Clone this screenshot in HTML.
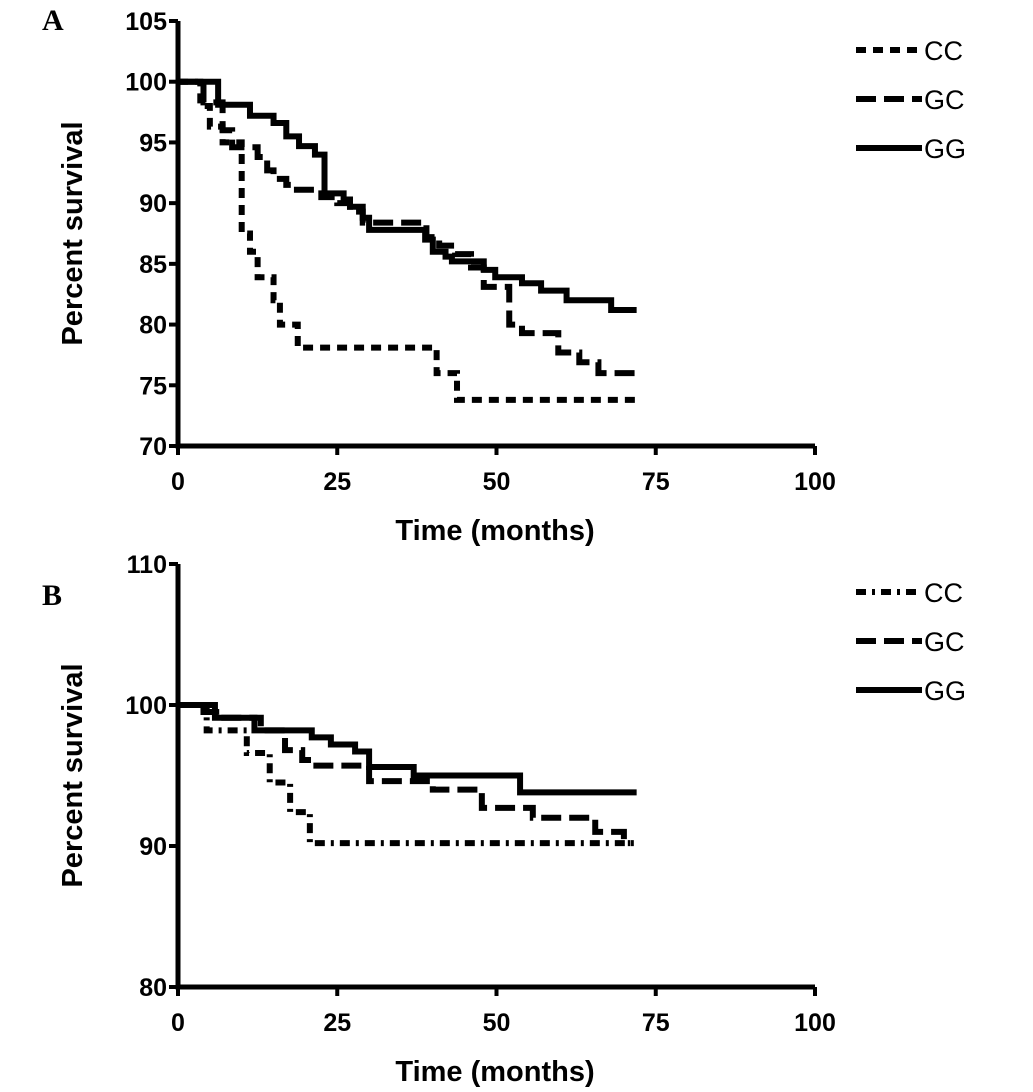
<!DOCTYPE html>
<html><head><meta charset="utf-8"><style>
body{margin:0;background:#fff}
svg text{font-family:"Liberation Sans",Arial,sans-serif;font-weight:bold;fill:#000}
</style></head><body>
<svg id="c" width="1033" height="1087" viewBox="0 0 1033 1087"></svg>
<script>
// Panel A data (time in months, percent survival)
const aCCt=[0,3.5,5,7,10,11.3,12.5,15,16,18.8,40.6,43.8,72];
const aCCv=[100,98,96.3,95,87.5,86,83.9,82,80,78.1,76,73.8,73.8];
const aGCt=[0,4,7,8.5,12.5,14,15,17,18,22.5,25,27,29,33,39,41,43.5,46,48,52,54,59.7,63,66,72];
const aGCv=[100,98.3,96,94.6,93.8,92.7,92,91.5,91.1,90.5,90,89.3,88.4,88.4,87.2,86.5,85.8,84.7,83.1,80,79.3,77.7,76.9,76,76];
const aGGt=[0,6.3,11.3,15,17,19,21.5,23,26,27,29,30,38.8,40,42,43,48,49.8,54,57,61,68,72];
const aGGv=[100,98.1,97.2,96.6,95.5,94.7,94,90.8,90.3,89.7,88.8,87.8,87,86,85.6,85.2,84.5,83.9,83.4,82.8,82,81.2,81.2];
// Panel B data
const bCCt=[0,4.5,10.8,14.4,17.6,20.7,72];
const bCCv=[100,98.2,96.6,94.5,92.4,90.2,90.2];
const bGCt=[0,4,6,13,16.8,19.5,21,30,40,47.7,55.7,65.5,70,71];
const bGCv=[100,99.5,99.1,98.2,96.8,96.1,95.7,94.6,94,92.7,92,91,90.2,90.2];
const bGGt=[0,5.8,12,21,24,27.8,30,37,53.7,72];
const bGGv=[100,99.1,98.2,97.7,97.2,96.7,95.6,95,93.8,93.8];
const xTicks=[0,25,50,75,100];
const aYTicks=[70,75,80,85,90,95,100,105];
const bYTicks=[80,90,100,110];

const NS='http://www.w3.org/2000/svg';
const svg=document.getElementById('c');
function el(tag,attrs,parent){const e=document.createElementNS(NS,tag);for(const k in attrs)e.setAttribute(k,attrs[k]);(parent||svg).appendChild(e);return e;}

function panel(name,letter,letterY,top,bottom,ymin,ymax,yTicks,series,legendY){
  const g=el('g',{});
  
  
  const x0=178,x1=815;
  const X=t=>x0+(t-0)/100*(x1-x0);
  const Y=v=>bottom-(v-ymin)/(ymax-ymin)*(bottom-top);
  const ax=el('path',{d:`M${x0} ${top} V${bottom} H${x1}`,stroke:'#000','stroke-width':5,fill:'none'},g);
  
  
  yTicks.forEach(v=>{
    el('line',{x1:x0-9,x2:x0,y1:Y(v),y2:Y(v),stroke:'#000','stroke-width':4},g);
    const t=el('text',{x:x0-11,y:Y(v)+9,'text-anchor':'end','font-size':25},g);
    t.textContent=v;
    
    
  });
  xTicks.forEach(v=>{
    el('line',{x1:X(v),x2:X(v),y1:bottom,y2:bottom+9,stroke:'#000','stroke-width':4},g);
    const t=el('text',{x:X(v),y:bottom+44,'text-anchor':'middle','font-size':25},g);
    t.textContent=v;
    
    
  });
  const xt=el('text',{x:495,y:bottom+94,'text-anchor':'middle','font-size':29},g);
  xt.textContent='Time (months)';
  
  
  const cy=(top+bottom)/2;
  const yt=el('text',{x:82,y:cy,'text-anchor':'middle','font-size':29,transform:`rotate(-90 82 ${cy})`},g);
  yt.textContent='Percent survival';
  
  
  const L=el('text',{x:42,y:letterY,'font-size':30,style:'font-family:"Liberation Serif",serif'},g);
  L.textContent=letter;
  
  
  series.forEach((s,i)=>{
    let d=`M${X(s.t[0])} ${Y(s.v[0])}`;
    for(let k=1;k<s.t.length;k++){d+=` H${X(s.t[k])} V${Y(s.v[k])}`;}
    const p=el('path',{d:d,stroke:'#000','stroke-width':6,fill:'none','stroke-dasharray':s.dash},g);
    
    
    const ly=legendY+i*49;
    el('line',{x1:856,x2:922,y1:ly,y2:ly,stroke:'#000','stroke-width':6,'stroke-dasharray':s.dash},g);
    const lt=el('text',{x:924,y:ly+10,'font-size':27,style:'font-weight:normal'},g);
    lt.textContent=s.name;
    
    
  });
}
panel('panel-a','A',30,21,446,70,105,aYTicks,[
  {name:'CC',t:aCCt,v:aCCv,dash:'10 7'},
  {name:'GC',t:aGCt,v:aGCv,dash:'20 8'},
  {name:'GG',t:aGGt,v:aGGv,dash:'none'}],50);
panel('panel-b','B',605,564,987,80,110,bYTicks,[
  {name:'CC',t:bCCt,v:bCCv,dash:'10 6 3 6'},
  {name:'GC',t:bGCt,v:bGCv,dash:'20 8'},
  {name:'GG',t:bGGt,v:bGGv,dash:'none'}],592);
</script>
</body></html>
